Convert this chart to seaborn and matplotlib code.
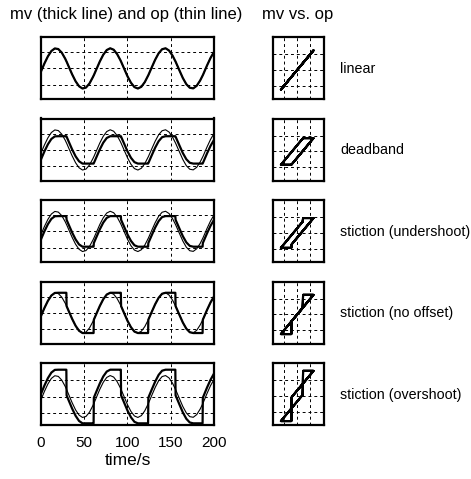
import matplotlib
matplotlib.use('Agg')
import matplotlib.pyplot as plt
import seaborn as sns

sns.set_style('white')
plt.rcParams['font.family'] = ['Liberation Sans', 'DejaVu Sans']
plt.rcParams['text.color'] = 'k'
plt.rcParams['xtick.color'] = 'k'
plt.rcParams['axes.labelcolor'] = 'k'

# sample times (s); extra samples at the stick-slip release instants
time_s = [0, 4, 8, 12, 16, 20, 24, 28, 29.3, 29.6, 32, 36, 40, 44, 48, 52, 56, 60, 60.8, 61.1,
          64, 68, 72, 76, 80, 84, 88, 92, 92.3, 92.6, 96, 100, 104, 108, 112, 116, 120, 123.8, 124.1,
          128, 132, 136, 140, 144, 148, 152, 155.3, 155.6, 156, 160, 164, 168, 172, 176, 180, 184,
          186.8, 187.1, 188, 192, 196, 200]

# controller output (thin line)
op = [-0.19, 0.31, 0.75, 1.08, 1.24, 1.20, 0.98, 0.60, 0.45, 0.42, 0.12, -0.37, -0.80, -1.11, -1.25,
      -1.19, -0.94, -0.54, -0.45, -0.42, -0.06, 0.43, 0.85, 1.14, 1.25, 1.16, 0.89, 0.49, 0.45, 0.42,
      0.00, -0.49, -0.89, -1.16, -1.25, -1.14, -0.85, -0.45, -0.42, 0.06, 0.54, 0.94, 1.19, 1.25, 1.11,
      0.80, 0.45, 0.42, 0.37, -0.12, -0.60, -0.98, -1.20, -1.24, -1.08, -0.75, -0.45, -0.42, -0.31,
      0.19, 0.65, 1.02]

# valve position (thick line) for each case
mv_linear = list(op)
mv_deadband = [-0.59, -0.09, 0.35, 0.68, 0.84, 0.85, 0.85, 0.85, 0.85, 0.82, 0.52, 0.03, -0.40, -0.71,
               -0.85, -0.85, -0.85, -0.85, -0.85, -0.82, -0.46, 0.03, 0.45, 0.74, 0.85, 0.85, 0.85,
               0.85, 0.85, 0.82, 0.40, -0.09, -0.49, -0.76, -0.85, -0.85, -0.85, -0.85, -0.82, -0.34,
               0.14, 0.54, 0.79, 0.85, 0.85, 0.85, 0.85, 0.82, 0.77, 0.28, -0.20, -0.58, -0.80, -0.85,
               -0.85, -0.85, -0.85, -0.82, -0.71, -0.21, 0.25, 0.62]
mv_undershoot = [-0.49, 0.01, 0.45, 0.78, 0.94, 0.95, 0.95, 0.95, 0.95, 0.72, 0.42, -0.07, -0.50, -0.81,
                 -0.95, -0.95, -0.95, -0.95, -0.95, -0.72, -0.36, 0.13, 0.55, 0.84, 0.95, 0.95, 0.95,
                 0.95, 0.95, 0.72, 0.30, -0.19, -0.59, -0.86, -0.95, -0.95, -0.95, -0.95, -0.72, -0.24,
                 0.24, 0.64, 0.89, 0.95, 0.95, 0.95, 0.95, 0.72, 0.67, 0.18, -0.30, -0.68, -0.90, -0.95,
                 -0.95, -0.95, -0.95, -0.72, -0.61, -0.11, 0.35, 0.72]
mv_nooffset = [-0.19, 0.31, 0.75, 1.08, 1.24, 1.25, 1.25, 1.25, 1.25, 0.42, 0.12, -0.37, -0.80, -1.11,
               -1.25, -1.25, -1.25, -1.25, -1.25, -0.42, -0.06, 0.43, 0.85, 1.14, 1.25, 1.25, 1.25,
               1.25, 1.25, 0.42, 0.00, -0.49, -0.89, -1.16, -1.25, -1.25, -1.25, -1.25, -0.42, 0.06,
               0.54, 0.94, 1.19, 1.25, 1.25, 1.25, 1.25, 0.42, 0.37, -0.12, -0.60, -0.98, -1.20, -1.25,
               -1.25, -1.25, -1.25, -0.42, -0.31, 0.19, 0.65, 1.02]
mv_overshoot = [0.16, 0.66, 1.10, 1.43, 1.59, 1.60, 1.60, 1.60, 1.60, 0.07, -0.23, -0.72, -1.15, -1.46,
                -1.60, -1.60, -1.60, -1.60, -1.60, -0.07, 0.29, 0.78, 1.20, 1.49, 1.60, 1.60, 1.60,
                1.60, 1.60, 0.07, -0.35, -0.84, -1.24, -1.51, -1.60, -1.60, -1.60, -1.60, -0.07, 0.41,
                0.89, 1.29, 1.54, 1.60, 1.60, 1.60, 1.60, 0.07, 0.02, -0.47, -0.95, -1.33, -1.55, -1.60,
                -1.60, -1.60, -1.60, -0.07, 0.04, 0.54, 1.00, 1.37]

cases = ['linear', 'deadband', 'stiction (undershoot)', 'stiction (no offset)', 'stiction (overshoot)']
mv_all = [mv_linear, mv_deadband, mv_undershoot, mv_nooffset, mv_overshoot]
time_ticks = [0, 50, 100, 150, 200]

W, H = 471, 479
fig = plt.figure(figsize=(W / 100, H / 100), dpi=100)


def add_ax(x0, y0, w, h):
    # pixel box (top-left origin) -> figure fraction
    return fig.add_axes([x0 / W, 1 - (y0 + h) / H, w / W, h / H])


def style(ax):
    ax.grid(True, color='k', linestyle=(0, (3, 3)), linewidth=0.7)
    ax.tick_params(length=0)
    for sp in ax.spines.values():
        sp.set_visible(True)
        sp.set_color('k')
        sp.set_linewidth(1.6)
    ax.set_xlabel('')
    ax.set_ylabel('')


for i, (name, mv) in enumerate(zip(cases, mv_all)):
    top = 37 + 81.5 * i

    # time trend
    ax = add_ax(41, top, 173, 62)
    sns.lineplot(x=time_s, y=mv, ax=ax, color='k', lw=1.6, estimator=None, sort=False)
    sns.lineplot(x=time_s, y=op, ax=ax, color='k', lw=0.8, estimator=None, sort=False)
    ax.set_xlim(0, 200)
    ax.set_ylim((-1.7, 2.0) if i == 4 else (-1.9, 1.95))
    ax.set_yticks([-1, 0, 1])
    ax.set_yticklabels([])
    style(ax)
    if i == 4:
        ax.set_xticks(time_ticks)
        ax.set_xticklabels([str(v) for v in time_ticks], fontsize=11)
        ax.tick_params(axis='x', pad=8)
        ax.set_xlabel('time/s', fontsize=12.5, labelpad=2)
    else:
        ax.set_xticks([50, 100, 150])
        ax.set_xticklabels([])

    # mv vs. op
    axp = add_ax(273, top, 51, 62)
    sns.lineplot(x=op, y=mv, ax=axp, color='k', lw=1.5, estimator=None, sort=False)
    axp.set_xlim(-1.85, 2.05)
    axp.set_ylim(-1.85, 2.1)
    axp.set_xticks([-1, 0, 1])
    axp.set_yticks([-1, 0, 1])
    axp.set_xticklabels([])
    axp.set_yticklabels([])
    style(axp)

    fig.text(340 / W, 1 - (top + 32) / H, name, fontsize=10.3, va='center', ha='left')

fig.text(10 / W, 1 - 15 / H, 'mv (thick line) and op (thin line)', fontsize=12, va='center')
fig.text(262 / W, 1 - 15 / H, 'mv vs. op', fontsize=12, va='center')

fig.savefig('out.png', dpi=100)
